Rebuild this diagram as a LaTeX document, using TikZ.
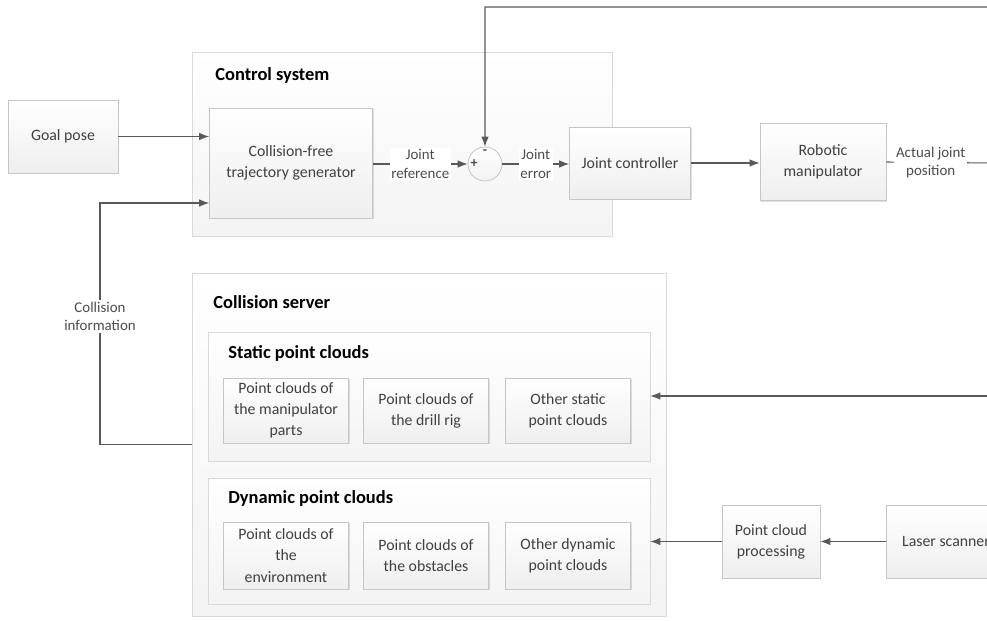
\documentclass[tikz,border=0pt]{standalone}
\usepackage{fontspec}
\setmainfont{Carlito}
\usetikzlibrary{arrows.meta,positioning,calc,shadows}

\begin{document}
\begin{tikzpicture}[x=0.02cm,y=-0.02cm,>={Latex[length=2mm,width=1.5mm]},
   blk/.style={draw=gray!45,top color=white,bottom color=gray!13,text=black!75,
     align=center,inner sep=2pt,font=\fontsize{9}{12}\selectfont,
     drop shadow={shadow xshift=0.7pt,shadow yshift=-0.7pt,opacity=0.25,fill=gray}},
   grp/.style={draw=gray!30,top color=white,bottom color=gray!9,
     drop shadow={shadow xshift=0.7pt,shadow yshift=-0.7pt,opacity=0.2,fill=gray}},
   ttl/.style={font=\bfseries\fontsize{10.5}{12}\selectfont,anchor=north west,inner sep=0pt},
   sig/.style={font=\fontsize{8.5}{10.5}\selectfont,fill=white,text=black!70,align=center,inner sep=1pt},
   sgn/.style={font=\bfseries\fontsize{8}{8}\selectfont,text=black!70,inner sep=0pt},
   wire/.style={draw=black!65,line width=0.6pt}]
  \useasboundingbox (0,0) rectangle (987,621);

  % containers
  \node[grp,minimum width=8.4cm,minimum height=3.68cm] (ctrl) at (402,144) {};
  \node[ttl] (ctrlT) at (215,67) {Control system};
  \node[grp,minimum width=9.48cm,minimum height=6.86cm] (cs) at (429,444.5) {};
  \node[ttl] (csT) at (213,295) {Collision server};
  \node[grp,minimum width=8.84cm,minimum height=2.58cm] (static) at (429,396.5) {};
  \node[ttl] (staticT) at (228,345) {Static point clouds};
  \node[grp,minimum width=8.84cm,minimum height=2.52cm] (dyn) at (429,541) {};
  \node[ttl] (dynT) at (228,490) {Dynamic point clouds};

  % blocks of the control loop
  \node[blk,minimum width=2.2cm,minimum height=1.46cm] (goal) at (63,136.5) {Goal pose};
  \node[blk,minimum width=3.26cm,minimum height=2.2cm] (traj) at (291,163) {Collision-free\\trajectory generator};
  \node[circle,draw=gray!50,top color=white,bottom color=gray!10,minimum size=0.68cm,inner sep=0pt] (sum) at (485,164) {};
  \node[sgn] (sumM) at (485,152) {-};
  \node[sgn] (sumP) at (474,164) {+};
  \node[blk,minimum width=2.42cm,minimum height=1.44cm] (jc) at (630,163) {Joint controller};
  \node[blk,minimum width=2.52cm,minimum height=1.54cm] (robot) at (823,162) {Robotic\\manipulator};

  % point cloud blocks
  \node[blk,minimum width=2.5cm,minimum height=1.3cm] (pcMan) at (286,410.5) {Point clouds of\\the manipulator\\parts};
  \node[blk,minimum width=2.5cm,minimum height=1.3cm] (pcRig) at (426,410.5) {Point clouds of\\the drill rig};
  \node[blk,minimum width=2.5cm,minimum height=1.3cm] (pcStat) at (568,410.5) {Other static\\point clouds};
  \node[blk,minimum width=2.5cm,minimum height=1.34cm] (pcEnv) at (286,555.5) {Point clouds of\\the\\environment};
  \node[blk,minimum width=2.5cm,minimum height=1.34cm] (pcObs) at (426,555.5) {Point clouds of\\the obstacles};
  \node[blk,minimum width=2.5cm,minimum height=1.34cm] (pcDyn) at (568,555.5) {Other dynamic\\point clouds};
  \node[blk,minimum width=1.96cm,minimum height=1.46cm] (pcp) at (771,541.5) {Point cloud\\processing};
  \node[blk,minimum width=2.4cm,minimum height=1.46cm] (laser) at (946,541.5) {Laser scanner};

  \coordinate (fbR) at (992,163);
  \coordinate (scanR) at (995,396);

  % signal flow
  \draw[wire,->] (goal.east) -- (goal.east -| traj.west);
  \draw[wire,->] (traj.east |- sum.west) -- node[sig]{Joint\\reference} (sum.west);
  \draw[wire,->] (sum.east) -- node[sig]{Joint\\error} (sum.east -| jc.west);
  \draw[wire,->] (jc.east) -- (jc.east -| robot.west);
  \draw[wire,->] (robot.east) -- node[sig,pos=0.42]{Actual joint\\position} (fbR)
     |- (sum.north |- 0,7) -- (sum.north);
  \draw[wire,->] (cs.west) -- (100,444.5) -- node[sig,pos=0.53]{Collision\\information} (100,203)
     -- (traj.west |- 0,203);
  \draw[wire,->] (scanR) -- (static.east |- scanR);
  \draw[wire,->] (laser.west) -- (pcp.east);
  \draw[wire,->] (pcp.west) -- (pcp.west -| dyn.east);
\end{tikzpicture}
\end{document}
